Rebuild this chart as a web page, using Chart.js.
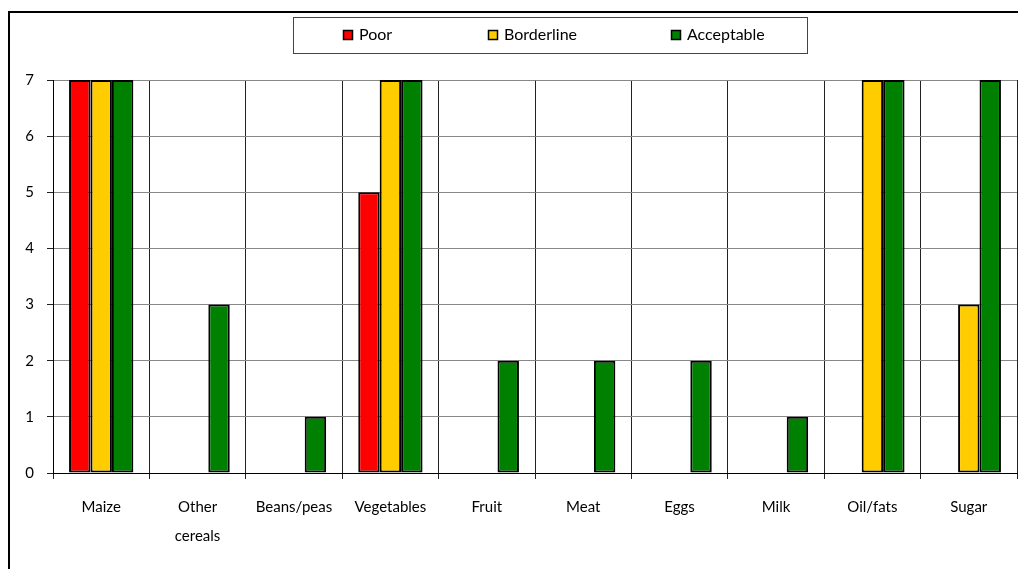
<!DOCTYPE html>
<html>
<head>
<meta charset="utf-8">
<script src="https://cdn.jsdelivr.net/npm/chart.js@4/dist/chart.umd.min.js"></script>
<style>
  html, body { margin: 0; padding: 0; background: #fff; }
  #wrap { width: 1018px; height: 569px; position: relative; }
</style>
</head>
<body>
<div id="wrap"><canvas id="c" width="1018" height="569"></canvas></div>
<script>
const categories = ['Maize', ['Other', 'cereals'], 'Beans/peas', 'Vegetables', 'Fruit', 'Meat', 'Eggs', 'Milk', 'Oil/fats', 'Sugar'];
const seriesNames = ['Poor', 'Borderline', 'Acceptable'];
const poor       = [7, 0, 0, 5, 0, 0, 0, 0, 0, 0];
const borderline = [7, 0, 0, 7, 0, 0, 0, 0, 7, 3];
const acceptable = [7, 3, 1, 7, 2, 2, 2, 1, 7, 7];
const yTicks = [0, 1, 2, 3, 4, 5, 6, 7];

const colors = ['#FF0000', '#FFCC00', '#008000'];
const FONT = 'Lato, "DejaVu Sans", sans-serif';

const frameAndLegend = {
  id: 'frameAndLegend',
  afterDraw(chart) {
    const ctx = chart.ctx;
    ctx.save();
    // outer frame
    ctx.strokeStyle = '#000';
    ctx.lineWidth = 2;
    ctx.beginPath();
    ctx.moveTo(9, 575);
    ctx.lineTo(9, 12);
    ctx.lineTo(1030, 12);
    ctx.stroke();
    // legend box
    ctx.lineWidth = 1;
    ctx.strokeStyle = '#444';
    ctx.strokeRect(293.5, 17.5, 514, 36);
    const xs = [343, 488, 671];
    ctx.font = '16px ' + FONT;
    ctx.textBaseline = 'middle';
    ctx.textAlign = 'left';
    chart.data.datasets.forEach((ds, i) => {
      ctx.fillStyle = ds.backgroundColor;
      ctx.fillRect(xs[i], 30, 10, 10);
      ctx.strokeStyle = '#000';
      ctx.lineWidth = 1.5;
      ctx.strokeRect(xs[i] + 0.5, 30.5, 9, 9);
      ctx.fillStyle = '#000';
      ctx.fillText(ds.label, xs[i] + 16, 35);
    });
    ctx.restore();
  }
};

new Chart(document.getElementById('c'), {
  type: 'bar',
  data: {
    labels: categories,
    datasets: [
      { label: seriesNames[0], data: poor, backgroundColor: colors[0] },
      { label: seriesNames[1], data: borderline, backgroundColor: colors[1] },
      { label: seriesNames[2], data: acceptable, backgroundColor: colors[2] }
    ].map(d => Object.assign(d, { borderColor: '#000', borderWidth: 2, borderSkipped: false,
      categoryPercentage: 0.667, barPercentage: 1.0 }))
  },
  options: {
    responsive: false,
    animation: false,
    devicePixelRatio: 1,
    layout: { padding: { left: 0, right: 1, top: 80, bottom: 0 } },
    plugins: { legend: { display: false }, tooltip: { enabled: false } },
    scales: {
      x: {
        offset: true,
        grid: { offset: true, color: '#222', lineWidth: 1, tickLength: 6, drawTicks: true },
        border: { color: '#000', width: 1 },
        ticks: { color: '#000', font: { family: FONT, size: 15, lineHeight: 1.9 }, padding: 14, maxRotation: 0, autoSkip: false },
        afterFit(scale) { scale.height = 96; }
      },
      y: {
        min: 0, max: 7,
        afterBuildTicks(scale) { scale.ticks = yTicks.map(v => ({ value: v })); },
        grid: { color: '#888', lineWidth: 1, tickLength: 6, tickColor: '#222' },
        border: { color: '#000', width: 1 },
        ticks: { color: '#000', font: { family: FONT, size: 15 }, padding: 13 },
        afterFit(scale) { scale.width = 53; }
      }
    }
  },
  plugins: [frameAndLegend]
});
</script>
</body>
</html>
